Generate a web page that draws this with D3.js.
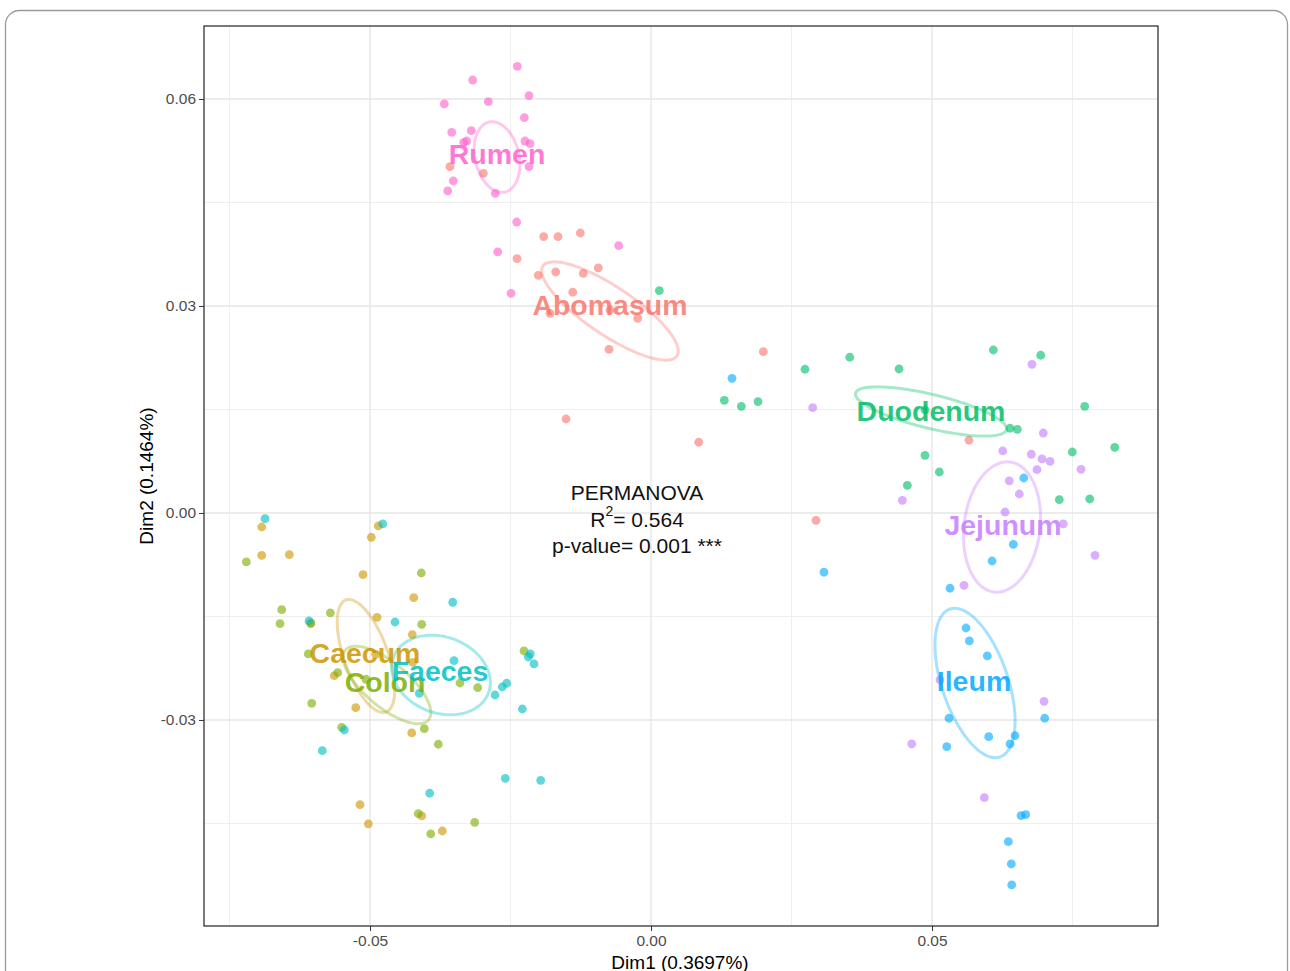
<!DOCTYPE html>
<html><head><meta charset="utf-8">
<script src="https://cdn.jsdelivr.net/npm/d3@7"></script>
<style>body{margin:0;background:#fff;}svg{display:block;font-family:"Liberation Sans",Arial,sans-serif;}</style>
</head><body>
<script>
// ---------- data ----------
const groups = ["Abomasum","Caecum","Colon","Duodenum","Faeces","Ileum","Jejunum","Rumen"];
const colors = ["#F8766D","#CD9600","#7CAE00","#00BE67","#00BFC4","#00A9FF","#C77CFF","#FF61CC"];
const xTicks = [-0.05, 0.00, 0.05];
const yTicks = [0.06, 0.03, 0.00, -0.03];
const xTickLabels = ["-0.05","0.00","0.05"];
const yTickLabels = ["0.06","0.03","0.00","-0.03"];
const xMinor = [-0.075,-0.025,0.025,0.075];
const yMinor = [0.045,0.015,-0.015,-0.045];
const xDomain = [-0.07954, 0.09021];
const yDomain = [-0.05986, 0.07058];

const rumen = [[-0.02379,0.06474],[-0.03173,0.06275],[-0.02171,0.06048],[-0.03678,0.05928],[-0.02895,0.05961],[-0.02254,0.05729],[-0.03546,0.05517],[-0.03198,0.05541],[-0.03279,0.05391],[-0.02242,0.05391],[-0.02153,0.05352],[-0.02171,0.05019],[-0.03518,0.04812],[-0.03617,0.04667],[-0.02770,0.04633],[-0.02390,0.04217],[-0.02728,0.03783],[-0.00575,0.03874],[-0.02491,0.03184],[-0.03333,0.05372]];
const abomasum = [[-0.03577,0.05019],[-0.02984,0.04923],[-0.01909,0.04004],[-0.01655,0.04004],[-0.01258,0.04058],[-0.02384,0.03686],[-0.02005,0.03445],[-0.01696,0.03493],[-0.01205,0.03474],[-0.00938,0.03551],[-0.01393,0.03199],[-0.01797,0.02894],[-0.00730,0.02942],[-0.00237,0.02822],[-0.00747,0.02372],[0.01998,0.02338],[0.00849,0.01025],[0.05658,0.01054],[0.02936,-0.00106],[-0.01512,0.01362]];
const duodenum = [[0.02740,0.02083],[0.03536,0.02257],[0.04413,0.02087],[0.06091,0.02362],[0.06934,0.02286],[0.01304,0.01633],[0.01607,0.01546],[0.01904,0.01613],[0.07717,0.01546],[0.04875,0.01493],[0.06388,0.01228],[0.06518,0.01213],[0.07496,0.00884],[0.08251,0.00952],[0.04875,0.00836],[0.05130,0.00594],[0.04561,0.00401],[0.07265,0.00193],[0.07806,0.00203],[0.00148,0.03222]];
const jejunum = [[0.06779,0.02155],[0.02877,0.01526],[0.06980,0.01159],[0.06258,0.00899],[0.06767,0.00851],[0.06957,0.00783],[0.07100,0.00749],[0.06868,0.00628],[0.07651,0.00633],[0.06375,0.00464],[0.06553,0.00275],[0.04472,0.00184],[0.06299,0.00014],[0.07336,-0.00159],[0.07900,-0.00613],[0.05569,-0.01048],[0.05142,-0.02420],[0.06993,-0.02729],[0.04639,-0.03348],[0.05931,-0.04126]];
const ileum = [[0.01441,0.01952],[0.06632,0.00507],[0.06447,-0.00454],[0.06068,-0.00696],[0.03078,-0.00859],[0.05320,-0.01091],[0.05605,-0.01667],[0.05664,-0.01855],[0.05984,-0.02072],[0.05302,-0.02975],[0.07005,-0.02975],[0.06009,-0.03242],[0.06477,-0.03228],[0.06388,-0.03348],[0.05262,-0.03387],[0.06584,-0.04387],[0.06667,-0.04372],[0.06358,-0.04764],[0.06411,-0.05087],[0.06418,-0.05391]];
const faeces = [[-0.06868,-0.00083],[-0.04774,-0.00159],[-0.03528,-0.01294],[-0.06085,-0.01565],[-0.04555,-0.01580],[-0.03505,-0.02141],[-0.02148,-0.02043],[-0.02183,-0.02087],[-0.02082,-0.02188],[-0.04123,-0.02613],[-0.02776,-0.02638],[-0.02646,-0.02522],[-0.02568,-0.02468],[-0.02290,-0.02841],[-0.05457,-0.03145],[-0.05849,-0.03445],[-0.02593,-0.03845],[-0.01963,-0.03874],[-0.03938,-0.04062]];
const caecum = [[-0.06927,-0.00203],[-0.04852,-0.00188],[-0.04977,-0.00352],[-0.06927,-0.00613],[-0.06436,-0.00604],[-0.05125,-0.00894],[-0.04222,-0.01228],[-0.04875,-0.01512],[-0.06055,-0.01604],[-0.04247,-0.01764],[-0.04899,-0.02048],[-0.04240,-0.02164],[-0.05635,-0.02358],[-0.05254,-0.02822],[-0.04258,-0.03188],[-0.05178,-0.04228],[-0.05030,-0.04507],[-0.04080,-0.04391],[-0.03714,-0.04609]];
const colon = [[-0.07201,-0.00710],[-0.04087,-0.00870],[-0.06571,-0.01401],[-0.05706,-0.01449],[-0.06601,-0.01604],[-0.04080,-0.01613],[-0.06055,-0.01594],[-0.06098,-0.02043],[-0.02260,-0.02000],[-0.05575,-0.02314],[-0.05071,-0.02410],[-0.03399,-0.02464],[-0.03084,-0.02532],[-0.06037,-0.02758],[-0.04034,-0.03126],[-0.05504,-0.03106],[-0.03785,-0.03352],[-0.04141,-0.04358],[-0.03137,-0.04483],[-0.03920,-0.04652]];
const pointSets = [abomasum, caecum, colon, duodenum, faeces, ileum, jejunum, rumen];

// ellipse: center, semi-axis vector 1, semi-axis vector 2 (data units)
const ellipseCenters = [[-0.00730,0.02928],[-0.05071,-0.02072],[-0.04698,-0.02493],[0.04982,0.01471],[-0.03737,-0.02348],[0.05765,-0.02464],[0.06246,-0.00203],[-0.02740,0.05159]];
const ellipseAxisA = [[0.01192,-0.00652],[0.00356,-0.00812],[0.00738,-0.00507],[0.01343,-0.00265],[0.00845,-0.00261],[0.00445,-0.01072],[0.00142,0.00942],[0.00142,-0.00507]];
const ellipseAxisB = [[0.00238,0.00288],[0.00368,0.00107],[0.00253,0.00243],[-0.00071,-0.00239],[-0.00240,-0.00515],[0.00557,0.00154],[0.00671,-0.00067],[0.00381,0.00071]];
const labelPos = [[-0.00730,0.03015],[-0.05089,-0.02029],[-0.04733,-0.02451],[0.04982,0.01478],[-0.03755,-0.02290],[0.05747,-0.02435],[0.06263,-0.00174],[-0.02740,0.05203]];

const annotLines = ["PERMANOVA", "R2= 0.564", "p-value= 0.001 ***"];
const annotPos = [-0.00249, 0.00290];

// ---------- layout ----------
const W = 1290, H = 971;
const M = {left:204, right:1158, top:26, bottom:926};
const svg = d3.select("body").append("svg").attr("width", W).attr("height", H);

svg.append("rect").attr("x",5.5).attr("y",10.5).attr("width",1282).attr("height",975)
  .attr("rx",14).attr("fill","#fff").attr("stroke","#9a9a9a").attr("stroke-width",1.3);

const x = d3.scaleLinear().domain(xDomain).range([M.left, M.right]);
const y = d3.scaleLinear().domain(yDomain).range([M.bottom, M.top]);

const g = svg.append("g");
// minor grid
g.selectAll(".vminor").data(xMinor).join("line").attr("x1",d=>x(d)).attr("x2",d=>x(d))
  .attr("y1",M.top).attr("y2",M.bottom).attr("stroke","#EFEFEF").attr("stroke-width",1);
g.selectAll(".hminor").data(yMinor).join("line").attr("y1",d=>y(d)).attr("y2",d=>y(d))
  .attr("x1",M.left).attr("x2",M.right).attr("stroke","#EFEFEF").attr("stroke-width",1);
// major grid
g.selectAll(".vmajor").data(xTicks).join("line").attr("x1",d=>x(d)).attr("x2",d=>x(d))
  .attr("y1",M.top).attr("y2",M.bottom).attr("stroke","#E6E6E6").attr("stroke-width",1.4);
g.selectAll(".hmajor").data(yTicks).join("line").attr("y1",d=>y(d)).attr("y2",d=>y(d))
  .attr("x1",M.left).attr("x2",M.right).attr("stroke","#E6E6E6").attr("stroke-width",1.4);

// points
groups.forEach((grp,i)=>{
  g.append("g").selectAll("circle").data(pointSets[i]).join("circle")
    .attr("cx",d=>x(d[0])).attr("cy",d=>y(d[1])).attr("r",4.4)
    .attr("fill",colors[i]).attr("fill-opacity",0.62);
});

// ellipses
groups.forEach((grp,i)=>{
  const c = ellipseCenters[i], a = ellipseAxisA[i], b = ellipseAxisB[i];
  const pts = d3.range(0, 361, 4).map(t=>{
    const r = t*Math.PI/180;
    return [x(c[0] + a[0]*Math.cos(r) + b[0]*Math.sin(r)), y(c[1] + a[1]*Math.cos(r) + b[1]*Math.sin(r))];
  });
  g.append("path").attr("d", d3.line().curve(d3.curveCardinalClosed)(pts.slice(0,-1)))
    .attr("fill","none").attr("stroke",colors[i]).attr("stroke-opacity",0.35).attr("stroke-width",3);
});

// labels
groups.forEach((grp,i)=>{
  g.append("text").attr("x",x(labelPos[i][0])).attr("y",y(labelPos[i][1]))
    .attr("text-anchor","middle").attr("dominant-baseline","central")
    .attr("font-size",28.5).attr("font-weight","bold").attr("fill",colors[i]).attr("fill-opacity",0.85)
    .text(grp);
});

// annotation
const ax = x(annotPos[0]), ay = y(annotPos[1]);
const fs = 21;
svg.append("text").attr("x",ax).attr("y",ay).attr("text-anchor","middle").attr("dominant-baseline","central")
  .attr("font-size",fs).attr("fill","#111").text(annotLines[0]);
const t2 = svg.append("text").attr("x",ax).attr("y",ay+26).attr("text-anchor","middle").attr("dominant-baseline","central")
  .attr("font-size",fs).attr("fill","#111");
t2.append("tspan").text("R");
t2.append("tspan").attr("dy",-8).attr("font-size",14).text("2");
t2.append("tspan").attr("dy",8).text("= 0.564");
svg.append("text").attr("x",ax).attr("y",ay+53).attr("text-anchor","middle").attr("dominant-baseline","central")
  .attr("font-size",fs).attr("fill","#111").text(annotLines[2]);

// panel border
svg.append("rect").attr("x",M.left).attr("y",M.top).attr("width",M.right-M.left).attr("height",M.bottom-M.top)
  .attr("fill","none").attr("stroke","#222").attr("stroke-width",1.2);

// axes
const xAxis = d3.axisBottom(x).tickValues(xTicks).tickFormat((d,i)=>xTickLabels[i]).tickSize(5).tickPadding(4);
const yAxis = d3.axisLeft(y).tickValues(yTicks).tickFormat((d,i)=>yTickLabels[i]).tickSize(5).tickPadding(3);
const gx = svg.append("g").attr("transform",`translate(0,${M.bottom})`).call(xAxis);
const gy = svg.append("g").attr("transform",`translate(${M.left},0)`).call(yAxis);
[gx,gy].forEach(a=>{
  a.select(".domain").remove();
  a.selectAll(".tick line").attr("stroke","#333");
  a.selectAll(".tick text").attr("fill","#4D4D4D").attr("font-size",15.5).attr("font-family","Liberation Sans, Arial, sans-serif");
});

svg.append("text").attr("x",680).attr("y",962).attr("text-anchor","middle").attr("dominant-baseline","central")
  .attr("font-size",19).attr("fill","#000").text("Dim1 (0.3697%)");
svg.append("text").attr("transform",`translate(146,${(M.top+M.bottom)/2}) rotate(-90)`).attr("text-anchor","middle")
  .attr("dominant-baseline","central").attr("font-size",19).attr("fill","#000").text("Dim2 (0.1464%)");
</script>
</body></html>
